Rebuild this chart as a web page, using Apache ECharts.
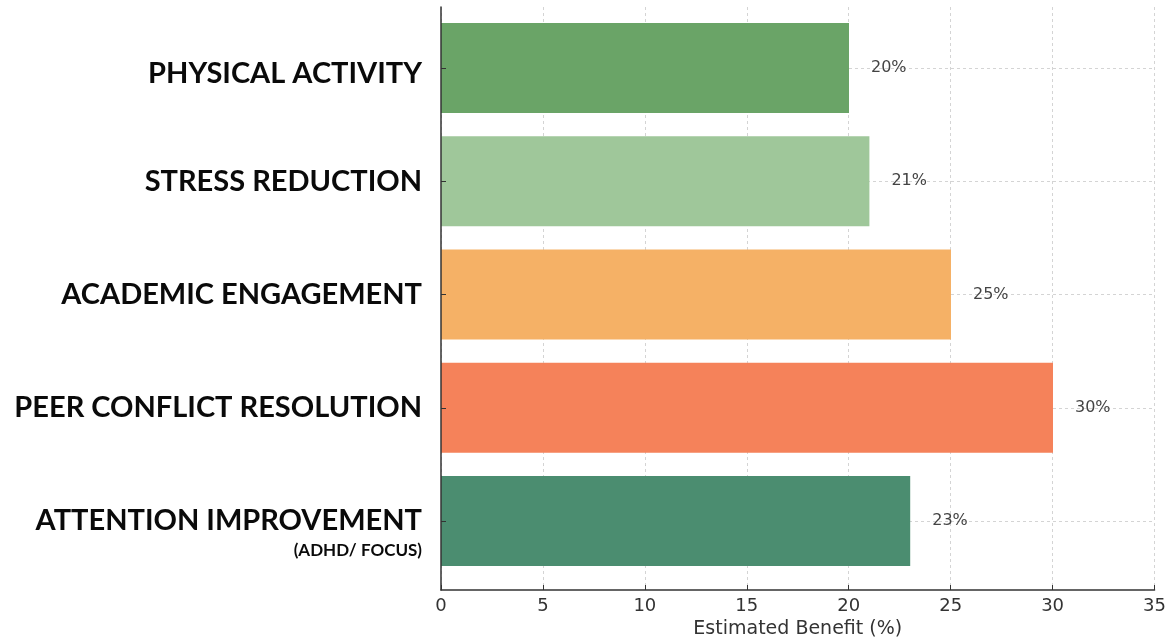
<!DOCTYPE html>
<html>
<head>
<meta charset="utf-8">
<script src="https://cdn.jsdelivr.net/npm/echarts@6/dist/echarts.min.js"></script>
<style>html,body{margin:0;padding:0;background:#fff;}#c{width:1169px;height:644px;}</style>
</head>
<body>
<div id="c"></div>
<script>
const categories = ['PHYSICAL ACTIVITY', 'STRESS REDUCTION', 'ACADEMIC ENGAGEMENT', 'PEER CONFLICT RESOLUTION', 'ATTENTION IMPROVEMENT'];
const subLabels = ['', '', '', '', '(ADHD/ FOCUS)'];
const values = [20, 21, 25, 30, 23];
const barColors = ['#6aa467', '#9fc79a', '#f5b166', '#f5825a', '#4b8d70'];
const xTicks = { min: 0, max: 35, interval: 5 };
const xName = 'Estimated Benefit (%)';

const chart = echarts.init(document.getElementById('c'), null, { renderer: 'canvas' });
const labelFont = 'Lato';
chart.setOption({
  animation: false,
  backgroundColor: '#fff',
  grid: [
    { left: 441, right: 14, top: 11.4, height: 566.25, containLabel: false },
    { left: 441, right: 14, top: 7, bottom: 52, containLabel: false }
  ],
  xAxis: [
    { gridIndex: 0, type: 'value', min: xTicks.min, max: xTicks.max, interval: xTicks.interval, show: false },
    {
      gridIndex: 1, type: 'value', min: xTicks.min, max: xTicks.max, interval: xTicks.interval,
      axisLine: { show: true, lineStyle: { color: '#333', width: 1.5 } },
      axisTick: { show: true, inside: true, length: 5, lineStyle: { color: '#333', width: 1 } },
      axisLabel: { fontSize: 18, color: '#333', fontFamily: 'DejaVu Sans', margin: 7 },
      splitLine: { show: true, lineStyle: { color: '#d4d4d4', width: 1, type: [3, 3] } },
      name: xName, nameLocation: 'middle', nameGap: 30,
      nameTextStyle: { fontSize: 19, color: '#333', fontFamily: 'DejaVu Sans' }
    }
  ],
  yAxis: [
    {
      gridIndex: 0, type: 'category', inverse: true, data: categories, position: 'left',
      axisLine: { show: false },
      axisTick: { show: false },
      splitLine: { show: true, alignWithLabel: true, lineStyle: { color: '#d4d4d4', width: 1, type: [3, 3] } },
      axisLabel: {
        margin: 19,
        formatter: function (v, i) {
          if (i === 0) return '{p|' + v + '}';
          if (subLabels[i]) return '{s|}\n{a|' + v + '}\n{b|' + subLabels[i] + '}';
          return '{a|' + v + '}';
        },
        rich: {
          a: { fontFamily: labelFont, fontWeight: 'bold', fontSize: 29, color: '#0a0a0a', align: 'right', lineHeight: 32 },
          p: { fontFamily: labelFont, fontWeight: 'bold', fontSize: 29, color: '#0a0a0a', align: 'right', lineHeight: 32, padding: [12, 0, 0, 0] },
          b: { fontFamily: labelFont, fontWeight: 'bold', fontSize: 17, color: '#0a0a0a', align: 'right', lineHeight: 26 },
          s: { fontSize: 17, lineHeight: 26 }
        }
      }
    },
    {
      gridIndex: 1, type: 'value', min: 0, max: 1, z: 5, position: 'left',
      axisLine: { show: true, lineStyle: { color: '#333', width: 1.5 } },
      axisTick: { show: false }, axisLabel: { show: false }, splitLine: { show: false }
    },
    {
      gridIndex: 0, type: 'category', inverse: true, data: categories, z: 5, position: 'left', offset: 0,
      axisLine: { show: false },
      axisTick: { show: true, inside: true, length: 5, alignWithLabel: true, lineStyle: { color: '#333', width: 1 } },
      axisLabel: { show: false }, splitLine: { show: false }
    }
  ],
  series: [{
    type: 'bar', xAxisIndex: 0, yAxisIndex: 0,
    barCategoryGap: '20.5%',
    z: 2,
    data: values.map((v, i) => ({ value: v, itemStyle: { color: barColors[i] } })),
    label: {
      show: true, position: 'right', distance: 22, formatter: '{c}%',
      fontSize: 16, color: '#444', fontFamily: 'DejaVu Sans'
    }
  }]
});
</script>
</body>
</html>
